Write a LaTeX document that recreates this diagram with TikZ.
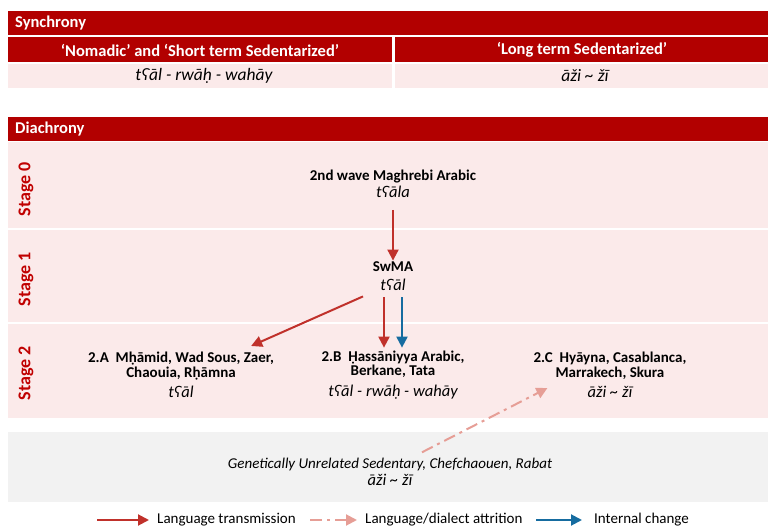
\documentclass[tikz,border=0pt]{standalone}
\usepackage{fontspec}
\setmainfont{Carlito}
\usetikzlibrary{arrows.meta}
\definecolor{dred}{RGB}{178,0,0}
\definecolor{pinkbg}{RGB}{251,234,234}
\definecolor{graybg}{RGB}{242,242,242}
\definecolor{arrred}{RGB}{192,49,43}
\definecolor{arrsalmon}{RGB}{230,158,150}
\definecolor{arrblue}{RGB}{22,108,160}
\definecolor{stagered}{RGB}{192,0,0}
\newcommand{\formsize}{\fontsize{16.5}{17}\selectfont}
\tikzset{
  bar/.style={fill=dred, draw=none},
  pinkrow/.style={fill=pinkbg, draw=none},
  grayrow/.style={fill=graybg, draw=none},
  bartxt/.style={text=white, font=\bfseries\fontsize{16.5}{18}\selectfont, inner sep=0pt},
  celltxt/.style={font=\itshape\fontsize{17.5}{19}\selectfont, inner sep=0pt},
  stagelbl/.style={text=stagered, font=\bfseries\fontsize{18}{20}\selectfont, rotate=90, inner sep=0pt},
  lang/.style={align=center, font=\fontsize{15}{14.5}\selectfont, inner sep=2pt},
  legtxt/.style={font=\fontsize{15}{17}\selectfont, inner sep=2pt},
  trans/.style={draw=arrred, line width=2pt, -{Triangle[length=11pt,width=11pt]}},
  attr/.style={draw=arrsalmon, line width=2pt, dash pattern=on 12pt off 5pt on 3pt off 5pt, -{Triangle[length=11pt,width=11pt]}},
  intern/.style={draw=arrblue, line width=2pt, -{Triangle[length=11pt,width=11pt]}},
}
\begin{document}
\begin{tikzpicture}[x=1pt,y=-1pt]
\useasboundingbox (0,0) rectangle (768,529);
% ---- Synchrony table ----
\fill[bar] (8,11) rectangle (768,35);
\node[bartxt, anchor=west] (syn) at (15,23.5) {Synchrony};
\fill[bar] (8,37) rectangle (392,62);
\fill[bar] (395,37) rectangle (768,62);
\node[bartxt] (nom) at (200,50) {‘Nomadic’ and ‘Short term Sedentarized’};
\node[bartxt] (lts) at (582,50) {‘Long term Sedentarized’};
\fill[pinkrow] (8,64) rectangle (392,88);
\fill[pinkrow] (395,64) rectangle (768,88);
\node[celltxt] (f1) at (204,76) {tʕāl - rwāḥ - wahāy};
\node[celltxt] (f2) at (585,76) {āži \char`\~{} žī};
% ---- Diachrony ----
\fill[bar] (8,117) rectangle (768,141);
\node[bartxt, anchor=west] (dia) at (15,129.5) {Diachrony};
\fill[pinkrow] (8,142) rectangle (768,228);
\fill[pinkrow] (8,230) rectangle (768,322);
\fill[pinkrow] (8,324) rectangle (768,418);
\fill[grayrow] (8,432) rectangle (768,502);
\node[stagelbl] (s0) at (26,189) {Stage 0};
\node[stagelbl] (s1) at (26,279) {Stage 1};
\node[stagelbl] (s2) at (26,373) {Stage 2};
% ---- languages ----
\node[lang] (n0) at (393,184) {\textbf{2nd wave Maghrebi Arabic}\\[2pt]{\formsize\itshape tʕāla}};
\node[lang] (n1) at (393,276) {\textbf{SwMA}\\[4pt]{\formsize\itshape tʕāl}};
\node[lang] (n2a) at (181,375) {\textbf{2.A\ \ Mḥāmid, Wad Sous, Zaer,}\\\textbf{Chaouia, Rḥāmna}\\[6pt]{\formsize\itshape tʕāl}};
\node[lang] (n2b) at (393,375) {\textbf{2.B\ \ Ḥassāniyya Arabic,}\\\textbf{Berkane, Tata}\\[6pt]{\formsize\itshape tʕāl - rwāḥ - wahāy}};
\node[lang] (n2c) at (610,375) {\textbf{2.C\ \ Hyāyna, Casablanca,}\\\textbf{Marrakech, Skura}\\[6pt]{\formsize\itshape āži \char`\~{} žī}};
\node[lang] (ng) at (390,472) {\textit{Genetically Unrelated Sedentary, Chefchaouen, Rabat}\\[2pt]{\formsize\itshape āži \char`\~{} žī}};
% ---- connectors ----
\draw[trans] ([yshift=-10pt]n0.south) -- ([yshift=-1pt]n1.north);
\draw[trans] ([xshift=-30pt,yshift=-4pt]n1.south) -- ([xshift=-25pt,yshift=4pt]n2a.north east);
\draw[trans] ([xshift=-9pt,yshift=-5pt]n1.south) -- ([xshift=-9pt,yshift=1pt]n2b.north);
\draw[intern] ([xshift=9pt,yshift=-5pt]n1.south) -- ([xshift=9pt,yshift=1pt]n2b.north);
\draw[attr] ([xshift=32pt,yshift=4pt]ng.north) -- ([xshift=16pt,yshift=12pt]n2c.south west);
% ---- legend ----
\node[legtxt, anchor=west] (l1) at (155,520) {Language transmission};
\node[legtxt, anchor=west] (l2) at (363,520) {Language/dialect attrition};
\node[legtxt, anchor=west] (l3) at (592,520) {Internal change};
\draw[trans] ([xshift=-58pt]l1.west) -- ([xshift=-6pt]l1.west);
\draw[attr] ([xshift=-53pt]l2.west) -- ([xshift=-6pt]l2.west);
\draw[intern] ([xshift=-56pt]l3.west) -- ([xshift=-10pt]l3.west);
\end{tikzpicture}
\end{document}
